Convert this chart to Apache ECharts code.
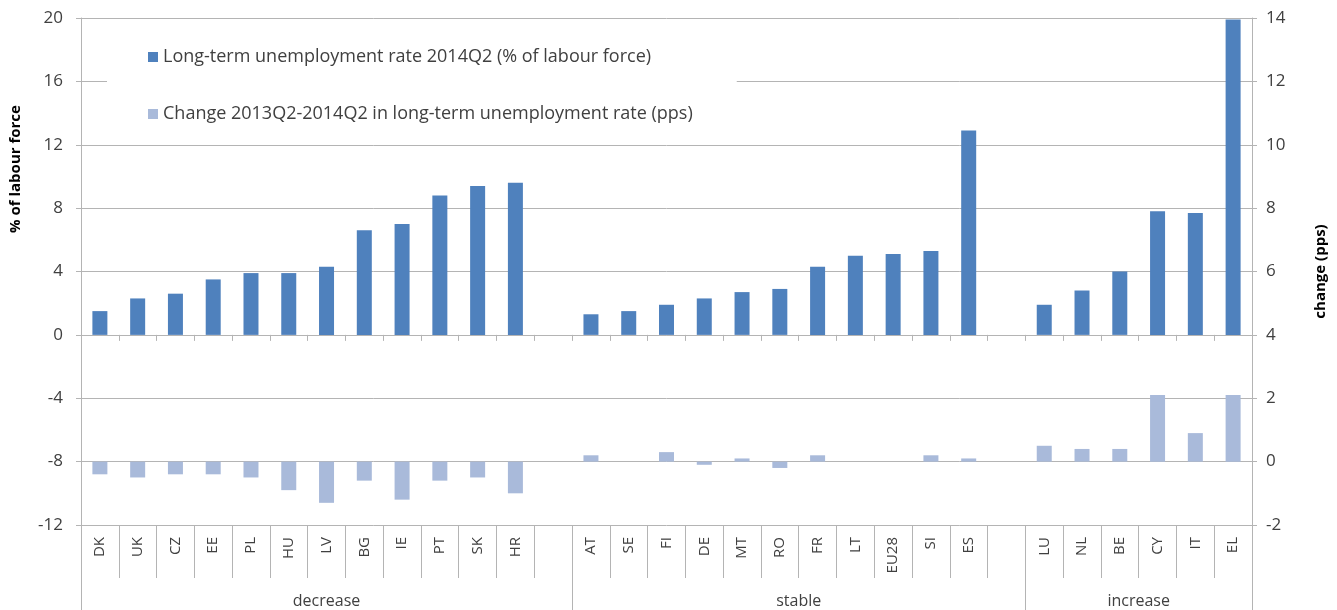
<!DOCTYPE html>
<html>
<head>
<meta charset="utf-8">
<title>Long-term unemployment</title>
<script src="https://cdn.jsdelivr.net/npm/echarts@6/dist/echarts.min.js"></script>
<style>
  html, body { margin: 0; padding: 0; background: #fff; }
  #chart { width: 1337px; height: 610px; }
</style>
</head>
<body>
<div id="chart"></div>
<script>
// categories, blank entries separate the groups
var countries = ['DK','UK','CZ','EE','PL','HU','LV','BG','IE','PT','SK','HR','',
                 'AT','SE','FI','DE','MT','RO','FR','LT','EU28','SI','ES',' ',
                 'LU','NL','BE','CY','IT','EL'];
// long-term unemployment rate 2014Q2, % of labour force (left axis)
var rate2014 = [1.5,2.3,2.6,3.5,3.9,3.9,4.3,6.6,7.0,8.8,9.4,9.6,null,
                1.3,1.5,1.9,2.3,2.7,2.9,4.3,5.0,5.1,5.3,12.9,null,
                1.9,2.8,4.0,7.8,7.7,19.9];
// change 2013Q2-2014Q2, pps (right axis)
var change = [-0.4,-0.5,-0.4,-0.4,-0.5,-0.9,-1.3,-0.6,-1.2,-0.6,-0.5,-1.0,null,
              0.2,0.0,0.3,-0.1,0.1,-0.2,0.2,0.0,0.0,0.2,0.1,null,
              0.5,0.4,0.4,2.1,0.9,2.1];
var groupNames = ['decrease','stable','increase'];
var groupSizes = [13, 12, 6];   // number of category slots per group (incl. blank)

var leftTicks = { min: -12, max: 20, interval: 4 };
var rightTicks = { min: -2, max: 14, interval: 2 };

// group boundaries and centres in category units
var bounds = [0], centres = [];
groupSizes.forEach(function (n) {
  var start = bounds[bounds.length - 1];
  centres.push(start + n / 2);
  bounds.push(start + n);
});

var font = 'Open Sans';
var grey = '#b4b4b4';
var txt = '#404040';

var myChart = echarts.init(document.getElementById('chart'));
var option = {
  animation: false,
  textStyle: { fontFamily: font },
  grid: { left: 79, right: 85, top: 18, bottom: 85 },
  legend: {
    orient: 'vertical',
    left: 107, top: 34,
    padding: [14, 44, 14, 41],
    backgroundColor: '#fff',
    itemWidth: 10, itemHeight: 10,
    itemGap: 39,
    icon: 'rect',
    textStyle: { fontSize: 18, color: txt, fontFamily: font },
    data: ['Long-term unemployment rate 2014Q2 (% of labour force)',
           'Change 2013Q2-2014Q2 in long-term unemployment rate (pps)']
  },
  xAxis: [
    {   // category axis sitting on the zero line
      type: 'category', data: countries,
      axisLine: { onZero: true, lineStyle: { color: grey } },
      axisTick: { show: true, interval: 0, length: 6, lineStyle: { color: grey } },
      axisLabel: { show: false },
      splitLine: { show: false }
    },
    {   // country labels at the bottom
      type: 'category', data: countries, position: 'bottom',
      axisLine: { show: false, onZero: false },
      axisTick: { show: true, interval: 0, length: 53, lineStyle: { color: grey } },
      axisLabel: { interval: 0, rotate: 90, margin: 12, fontSize: 15, color: txt },
      splitLine: { show: false }
    },
    {   // group level
      type: 'value', min: 0, max: countries.length, position: 'bottom',
      axisLine: { show: false, onZero: false },
      splitLine: { show: false },
      axisTick: { show: true, length: 85, customValues: bounds, lineStyle: { color: grey } },
      axisLabel: {
        customValues: centres, margin: 68, fontSize: 16, color: txt,
        formatter: function (v) { return groupNames[centres.indexOf(v)]; }
      }
    }
  ],
  yAxis: [
    {
      type: 'value', min: leftTicks.min, max: leftTicks.max, interval: leftTicks.interval,
      position: 'left',
      name: '% of labour force', nameLocation: 'middle', nameGap: 58, nameRotate: 90,
      nameTextStyle: { fontSize: 15, fontWeight: 'bold', color: '#000', padding: [0, 0, 0, 205] },
      axisLine: { show: true, lineStyle: { color: grey } },
      axisTick: { show: true, length: 5, lineStyle: { color: grey } },
      axisLabel: { fontSize: 17, color: txt, margin: 18 },
      splitLine: { show: true, lineStyle: { color: grey } }
    },
    {
      type: 'value', min: rightTicks.min, max: rightTicks.max, interval: rightTicks.interval,
      position: 'right',
      name: 'change (pps)', nameLocation: 'middle', nameGap: 61, nameRotate: 90,
      nameTextStyle: { fontSize: 15, fontWeight: 'bold', color: '#000' },
      axisLine: { show: true, lineStyle: { color: grey } },
      axisTick: { show: true, length: 5, lineStyle: { color: grey } },
      axisLabel: { fontSize: 17, color: txt, margin: 14 },
      splitLine: { show: false }
    }
  ],
  series: [
    {
      name: 'Long-term unemployment rate 2014Q2 (% of labour force)',
      type: 'bar', xAxisIndex: 0, yAxisIndex: 0,
      barWidth: 15, barGap: '-100%',
      itemStyle: { color: '#4F81BD' },
      data: rate2014
    },
    {
      name: 'Change 2013Q2-2014Q2 in long-term unemployment rate (pps)',
      type: 'bar', xAxisIndex: 0, yAxisIndex: 1,
      barWidth: 15, barGap: '-100%',
      itemStyle: { color: '#A9BADA' },
      data: change
    }
  ]
};
myChart.setOption(option);
</script>
</body>
</html>
